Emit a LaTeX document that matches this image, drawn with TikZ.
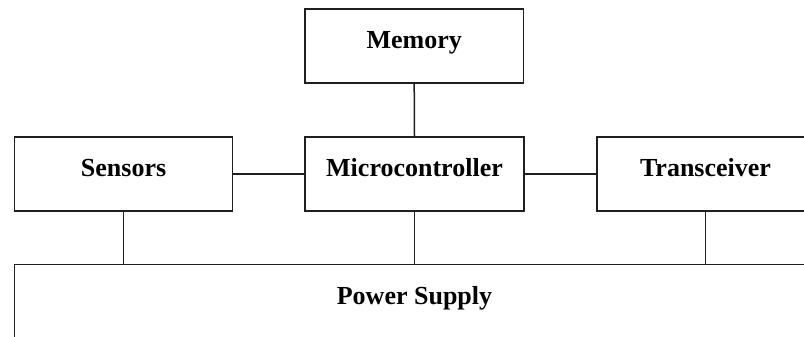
\documentclass[tikz,border=0pt]{standalone}
\usepackage{fontspec}
\setmainfont{Liberation Serif}
\begin{document}
\begin{tikzpicture}[x=1pt,y=-1pt,
  blk/.style={draw=black!88,line width=1.5pt,inner sep=0pt,minimum height=74pt,
    text height=17pt,text depth=11.6pt,font=\fontsize{26}{30}\selectfont\bfseries},
  psu/.style={blk,minimum height=90pt,text depth=27.6pt},
  wire/.style={draw=black!88,line width=1.5pt}]
\useasboundingbox (0,0) rectangle (804,337);
\clip (0,0) rectangle (804,337);
\fill[white] (0,0) rectangle (804,337);
\node[blk,minimum width=218.5pt] (mem) at (414.2,46.2) {Memory};
\node[blk,minimum width=218.2pt] (sen) at (123.6,173.8) {Sensors};
\node[blk,minimum width=219pt] (mcu) at (414.5,173.8) {Microcontroller};
\node[blk,minimum width=217.5pt] (trx) at (705.5,173.8) {Transceiver};
\node[psu,minimum width=800pt] (psu) at (414.5,309.3) {Power Supply};
\draw[wire] (mem.south) -- (mcu.north);
\draw[wire] (sen.east) -- (mcu.west);
\draw[wire] (mcu.east) -- (trx.west);
\draw[wire] (sen.south) -- (sen.south |- psu.north);
\draw[wire] (mcu.south) -- (mcu.south |- psu.north);
\draw[wire] (trx.south) -- (trx.south |- psu.north);
\end{tikzpicture}
\end{document}
